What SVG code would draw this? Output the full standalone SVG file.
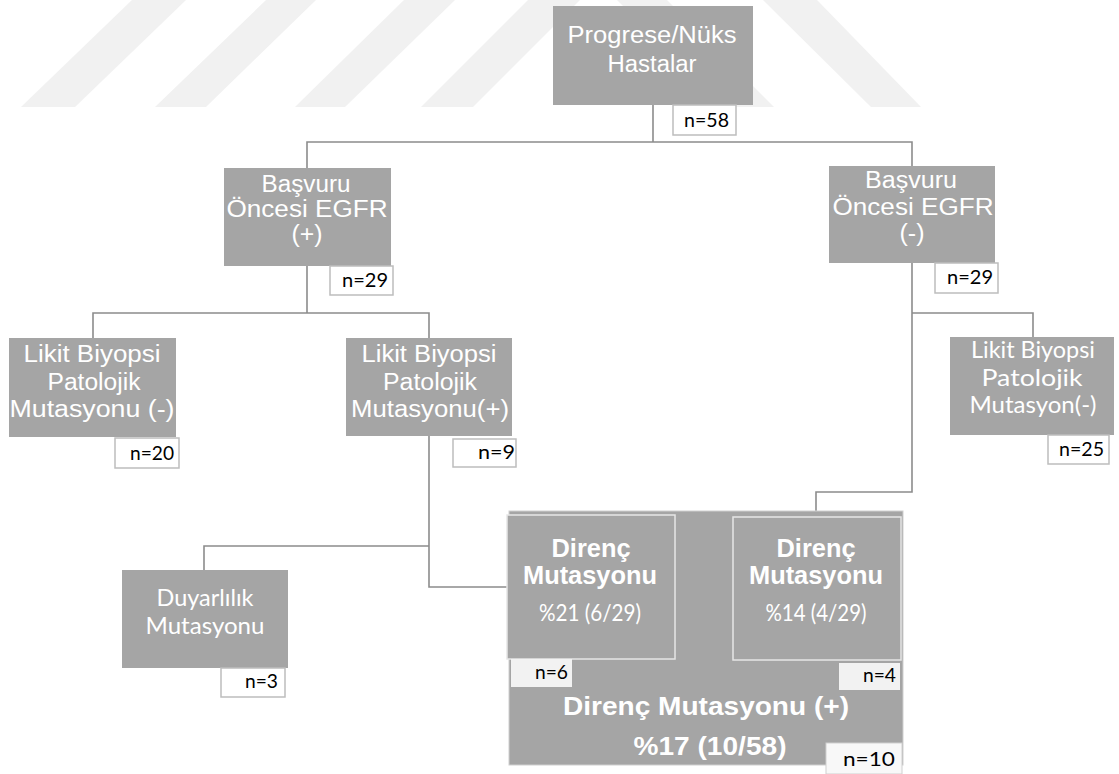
<svg xmlns="http://www.w3.org/2000/svg" width="1119" height="774" viewBox="0 0 1119 774">
<style>
.bx{fill:#a5a5a5}
.ib{fill:#a5a5a5;stroke:#e6e6e6;stroke-width:1.5}
.nb{fill:#fff;stroke:#bdbdbd;stroke-width:1.5}
.nf{fill:#f2f2f2}
.t{font-family:"Liberation Sans",Arial,sans-serif;font-size:23px;fill:#fff;text-anchor:middle}
.c{font-family:Lato,"Open Sans",sans-serif;font-size:23px;fill:#fff;text-anchor:middle}
.b{font-family:"Liberation Sans",Arial,sans-serif;font-size:25px;font-weight:bold;fill:#fff;text-anchor:middle}
.n{font-family:Lato,"Open Sans",sans-serif;font-size:19px;fill:#000;text-anchor:end}
.wm{fill:#f1f1f1}
.ln{fill:none;stroke:#8c8c8c;stroke-width:1.6}
</style>
<rect width="1119" height="774" fill="#fff"/>
<g id="watermark">
<polygon class="wm" points="21,107 75,107 186,0 132,0"/>
<polygon class="wm" points="155,107 206,107 316,0 266,0"/>
<polygon class="wm" points="295,107 345,107 455,0 404,0"/>
<polygon class="wm" points="421,107 473,107 580,0 528,0"/>
<polygon class="wm" points="617,0 667,0 774,107 724,107"/>
<polygon class="wm" points="763,0 817,0 921,107 871,107"/>
</g>
<g id="connectors">
<path class="ln" d="M653,105 V142 M307,168 V142 H912 V166"/>
<path class="ln" d="M307,266 V313 M93,338 V313 H429 V338"/>
<path class="ln" d="M429,436 V587 H507 M429,546 H204 V570"/>
<path class="ln" d="M912,263 V492 H816 V511 M912,313 H1033 V337"/>
</g>
<g id="n-root">
<rect class="bx" x="553" y="6" width="200" height="99"/>
<text class="t" x="652" y="43" textLength="169" lengthAdjust="spacingAndGlyphs">Progrese/Nüks</text>
<text class="t" x="652" y="72" textLength="89" lengthAdjust="spacingAndGlyphs">Hastalar</text>
<rect class="nb" x="673" y="105" width="63" height="30"/>
<text class="n" x="729" y="127" textLength="45" lengthAdjust="spacingAndGlyphs">n=58</text>
</g>
<g id="n-egfr-pos">
<rect class="bx" x="224" y="168" width="167" height="98"/>
<text class="t" x="306" y="192" textLength="89" lengthAdjust="spacingAndGlyphs">Başvuru</text>
<text class="t" x="307" y="217" textLength="161" lengthAdjust="spacingAndGlyphs">Öncesi EGFR</text>
<text class="t" x="307" y="242" textLength="31" lengthAdjust="spacingAndGlyphs">(+)</text>
<rect class="nb" x="330" y="266" width="63" height="29"/>
<text class="n" x="388" y="287" textLength="46" lengthAdjust="spacingAndGlyphs">n=29</text>
</g>
<g id="n-egfr-neg">
<rect class="bx" x="829" y="166" width="166" height="97"/>
<text class="t" x="911" y="188" textLength="92" lengthAdjust="spacingAndGlyphs">Başvuru</text>
<text class="t" x="913" y="215" textLength="161" lengthAdjust="spacingAndGlyphs">Öncesi EGFR</text>
<text class="t" x="912" y="241" textLength="25" lengthAdjust="spacingAndGlyphs">(-)</text>
<rect class="nb" x="935" y="263" width="63" height="30"/>
<text class="n" x="993" y="284" textLength="46" lengthAdjust="spacingAndGlyphs">n=29</text>
</g>
<g id="n-likit-neg-left">
<rect class="bx" x="9" y="338" width="167" height="99"/>
<text class="t" x="92" y="362" textLength="137" lengthAdjust="spacingAndGlyphs">Likit Biyopsi</text>
<text class="t" x="94" y="390" textLength="93" lengthAdjust="spacingAndGlyphs">Patolojik</text>
<text class="t" x="92" y="417" textLength="165" lengthAdjust="spacingAndGlyphs">Mutasyonu  (-)</text>
<rect class="nb" x="115" y="438" width="64" height="30"/>
<text class="n" x="174" y="460" textLength="44" lengthAdjust="spacingAndGlyphs">n=20</text>
</g>
<g id="n-likit-pos">
<rect class="bx" x="346" y="338" width="166" height="98"/>
<text class="t" x="429" y="362" textLength="135" lengthAdjust="spacingAndGlyphs">Likit Biyopsi</text>
<text class="t" x="430" y="390" textLength="94" lengthAdjust="spacingAndGlyphs">Patolojik</text>
<text class="t" x="430" y="417" textLength="158" lengthAdjust="spacingAndGlyphs">Mutasyonu(+)</text>
<rect class="nb" x="453" y="439" width="63" height="28"/>
<text class="n" x="515" y="459" textLength="37" lengthAdjust="spacingAndGlyphs">n=9</text>
</g>
<g id="n-likit-neg-right">
<rect class="bx" x="950" y="337" width="164" height="98"/>
<text class="c" x="1033" y="358" textLength="124" lengthAdjust="spacingAndGlyphs">Likit Biyopsi</text>
<text class="c" x="1032" y="386" textLength="101" lengthAdjust="spacingAndGlyphs">Patolojik</text>
<text class="c" x="1033" y="413" textLength="127" lengthAdjust="spacingAndGlyphs">Mutasyon(-)</text>
<rect class="nb" x="1048" y="435" width="61" height="29"/>
<text class="n" x="1104" y="456" textLength="45" lengthAdjust="spacingAndGlyphs">n=25</text>
</g>
<g id="n-duyarlilik">
<rect class="bx" x="122" y="570" width="166" height="98"/>
<text class="c" x="205" y="606" textLength="97" lengthAdjust="spacingAndGlyphs">Duyarlılık</text>
<text class="c" x="205" y="634" textLength="119" lengthAdjust="spacingAndGlyphs">Mutasyonu</text>
<rect class="nb" x="221" y="668" width="64" height="29"/>
<text class="n" x="278" y="688" textLength="33" lengthAdjust="spacingAndGlyphs">n=3</text>
</g>
<g id="n-direnc-total">
<rect x="509" y="511" width="394" height="254" fill="#a5a5a5" stroke="#cfcfcf" stroke-width="1"/>
<text class="b" x="706" y="715" textLength="286" lengthAdjust="spacingAndGlyphs">Direnç Mutasyonu (+)</text>
<text class="b" x="710" y="755" font-size="26" textLength="153" lengthAdjust="spacingAndGlyphs">%17  (10/58)</text>
<rect x="826" y="743" width="76" height="31" fill="#f8f8f8" stroke="#d0d0d0" stroke-width="1"/>
<text class="n" x="895" y="766" font-size="22" textLength="52" lengthAdjust="spacingAndGlyphs">n=10</text>
</g>
<g id="n-direnc-left">
<rect class="ib" x="507" y="515" width="168" height="144"/>
<text class="b" x="591" y="557" textLength="79" lengthAdjust="spacingAndGlyphs">Direnç</text>
<text class="b" x="590" y="584" textLength="134" lengthAdjust="spacingAndGlyphs">Mutasyonu</text>
<text class="c" x="590" y="621" font-size="21" textLength="102" lengthAdjust="spacingAndGlyphs">%21 (6/29)</text>
<rect class="nf" x="511" y="659" width="61" height="28"/>
<text class="n" x="568" y="679" textLength="33" lengthAdjust="spacingAndGlyphs">n=6</text>
</g>
<g id="n-direnc-right">
<rect class="ib" x="733" y="517" width="168" height="143"/>
<text class="b" x="816" y="557" textLength="79" lengthAdjust="spacingAndGlyphs">Direnç</text>
<text class="b" x="816" y="584" textLength="134" lengthAdjust="spacingAndGlyphs">Mutasyonu</text>
<text class="c" x="816" y="621" font-size="21" textLength="101" lengthAdjust="spacingAndGlyphs">%14 (4/29)</text>
<rect class="nf" x="839" y="663" width="61" height="27"/>
<text class="n" x="896" y="682" textLength="33" lengthAdjust="spacingAndGlyphs">n=4</text>
</g>
</svg>
